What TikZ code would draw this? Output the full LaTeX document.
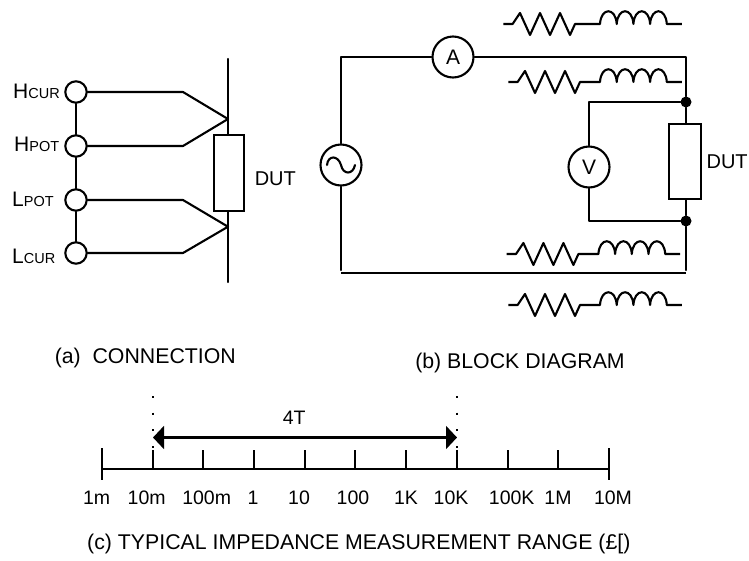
\documentclass[tikz,border=0pt]{standalone}
\usepackage{fontspec}
\setmainfont{Liberation Sans}
\usepackage{tikz}
\usetikzlibrary{arrows.meta,positioning}
\tikzstyle{wire} = [line width=2.1pt,line cap=round,line join=round]
\tikzstyle{terminal} = [circle, draw, line width=2.1pt, minimum size=21.4pt, inner sep=0pt]
\tikzstyle{meter} = [circle, draw, fill=white, line width=2.1pt, minimum size=41pt, inner sep=0pt, font=\fontsize{21}{24}\selectfont]
\tikzstyle{junction} = [circle, fill=black, minimum size=11pt, inner sep=0pt]
\tikzstyle{dutbox} = [rectangle, draw, line width=2.1pt, inner sep=0pt]
\tikzstyle{caption} = [inner sep=0pt, font=\fontsize{21.3}{24}\selectfont]
\tikzstyle{ticktext} = [inner sep=0pt, font=\fontsize{19.5}{22}\selectfont]
\tikzstyle{duttext} = [inner sep=0pt, font=\fontsize{20}{22}\selectfont]
\tikzstyle{portname} = [inner sep=0pt, anchor=base west, font=\fontsize{21}{24}\selectfont]
\tikzstyle{rangearrow} = [line width=2.1pt,{Triangle[length=11pt,width=23pt]}-{Triangle[length=11pt,width=23pt]}]
\newcommand{\subtext}[1]{{\fontsize{14.5}{16}\selectfont #1}}
\newcommand{\rlbranch}[3]{%
\draw[wire,line cap=butt] (#1,#2) -- ++(9.3,0) -- ++(7.4,-11) -- ++(10,22) -- ++(10,-22) -- ++(10,22) -- ++(10,-22) -- ++(10,22) -- ++(5,-11) -- (#1+#3,#2)
 .. controls +(1,-17) and +(-1,-17) .. ++(16.7,0)
 .. controls +(1,-17) and +(-1,-17) .. ++(16.7,0)
 .. controls +(1,-17) and +(-1,-17) .. ++(16.7,0)
 .. controls +(1,-17) and +(-1,-17) .. ++(16.7,0) -- ++(15,0);}
\begin{document}
\begin{tikzpicture}[x=1pt,y=-1pt]
\useasboundingbox (0,0) rectangle (749,560);
% Connection
\node (hcur) [terminal] at (76,92) {};
\node (hpot) [terminal] at (76,146) {};
\node (lpot) [terminal] at (76,200) {};
\node (lcur) [terminal] at (76,253) {};
\node (hcurtext) [portname] at (13,98.3) {H\subtext{CUR}};
\node (hpottext) [portname] at (14,151) {H\subtext{POT}};
\node (lpottext) [portname] at (12,206) {L\subtext{POT}};
\node (lcurtext) [portname] at (12,263) {L\subtext{CUR}};
\node (dutA) [dutbox, minimum width=30pt, minimum height=76pt] at (229,173) {};
\node (duttextA) [duttext, right=9.5pt of dutA, yshift=-6pt] {DUT};
\coordinate (leadtop) at (228,59);
\coordinate (leadbot) at (228,282);
\coordinate (joinhigh) at (228,119);
\coordinate (joinlow) at (228,226.7);
\coordinate (bendhcur) at (183,92);
\coordinate (bendhpot) at (183,146);
\coordinate (bendlpot) at (183,200);
\coordinate (bendlcur) at (183,253);
\draw[wire] (hcur) -- (hpot);
\draw[wire] (hpot) -- (lpot);
\draw[wire] (lpot) -- (lcur);
\draw[wire] (hcur) -- (bendhcur) -- (joinhigh) -- (bendhpot) -- (hpot);
\draw[wire] (lpot) -- (bendlpot) -- (joinlow) -- (bendlcur) -- (lcur);
\draw[wire] (leadtop) -- (dutA.north -| leadtop);
\draw[wire] (dutA.south -| leadbot) -- (leadbot);

% Block diagram
\node (source) [meter, minimum size=41pt] at (341,165) {};
\node (ammeter) [meter] at (453,57) {A};
\node (voltmeter) [meter] at (589,167) {V};
\node (dutB) [dutbox, minimum width=32pt, minimum height=75pt] at (685.3,161.7) {};
\node (duttextB) [duttext, right=4pt of dutB] {DUT};
\node (nodetop) [junction] at (686,102) {};
\node (nodebot) [junction] at (686,221) {};
\coordinate (cornerA) at (341,57);
\coordinate (cornerB) at (686,57);
\coordinate (cornerC) at (589,102);
\coordinate (cornerD) at (589,221);
\coordinate (returnL) at (341,273);
\coordinate (returnR) at (686,273);
\coordinate (sourceend) at (341,270);
\coordinate (nodeend) at (686,270);
\draw[wire] (source) -- (cornerA) -- (ammeter);
\draw[wire] (ammeter) -- (cornerB) -- (nodetop);
\draw[wire] (nodetop) -- (dutB.north -| nodetop);
\draw[wire] (dutB.south -| nodebot) -- (nodebot);
\draw[wire] (nodetop) -- (cornerC) -- (voltmeter);
\draw[wire] (voltmeter) -- (cornerD) -- (nodebot);
\draw[wire] (source) -- (sourceend);
\draw[wire] (nodebot) -- (nodeend);
\draw[line width=2.4pt] (returnL) -- (returnR);
\draw[wire] (327,165) .. controls (328,155) and (338,155) .. (source.center) .. controls (343,175) and (353,175) .. (355,165);
\rlbranch{503.3}{24}{96.7}
\rlbranch{508.3}{82}{91.7}
\rlbranch{506.7}{254}{91.7}
\rlbranch{508.3}{305}{91.7}

% Captions
\node (captionA) [caption, anchor=east] at (236,358) {(a)\ \ CONNECTION};
\node (captionB) [caption] at (520,362.7) {(b) BLOCK DIAGRAM};
\node (captionC) [caption] at (358.8,544) {(c) TYPICAL IMPEDANCE MEASUREMENT RANGE (£[)};

% Range axis
\coordinate (axisL) at (102,469);
\coordinate (axisR) at (609,469);
\draw[wire,line cap=butt] (axisL) -- (axisR);
\draw[wire,line cap=butt] (102,448) -- (102,480);
\draw[wire,line cap=butt] (609,448) -- (609,480);
\foreach \x in {153,203,254,305,355,406,457,508,558}
  \draw[wire,line cap=butt] (\x,450) -- (\x,469);
\foreach \x/\lab in {96.7/1m,146.7/10m,206.7/100m,253/1,299/10,353/100,406/1K,451/10K,511.7/100K,558/1M,613/10M}
  \node (tick\lab) [ticktext] at (\x,498) {\lab};
\coordinate (limitL) at (153,437.5);
\coordinate (limitR) at (457,437.5);
\draw[line width=2pt,dash pattern=on 2pt off 14.7pt] (153,396) -- (153,449);
\draw[line width=2pt,dash pattern=on 2pt off 14.7pt] (457,396) -- (457,449);
\draw[rangearrow] (limitL) -- node[ticktext, pos=0.4645, above=12pt] (rangetext) {4T} (limitR);
\end{tikzpicture}
\end{document}
